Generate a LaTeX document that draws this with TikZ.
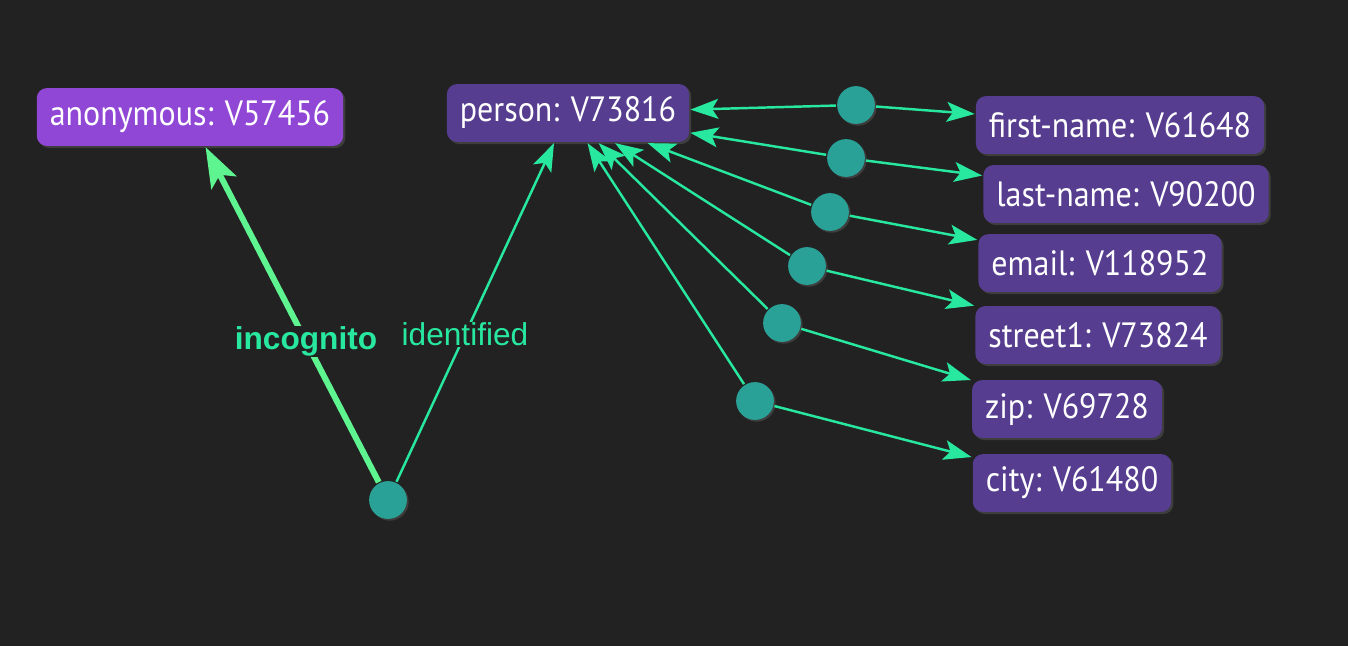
\documentclass[tikz,border=0pt]{standalone}
\usepackage{fontspec}
\newfontfamily\boxfont[FakeStretch=0.91]{PT Sans}
\newfontfamily\lblfont{Liberation Sans}
\usetikzlibrary{arrows.meta, shadows}
\definecolor{bgcol}{HTML}{222222}
\definecolor{anoncol}{HTML}{9147D6}
\definecolor{boxcol}{HTML}{563D8F}
\definecolor{hubcol}{HTML}{2AA197}
\definecolor{edgecol}{HTML}{28E8A0}
\definecolor{boldcol}{HTML}{5EF590}

\begin{document}
\begin{tikzpicture}[x=0.02cm,y=-0.02cm,->,>={Stealth[length=15.9pt,width=11.3pt,inset=3.5pt]},line width=1.4pt,draw=edgecol]
  \tikzstyle{box}=[rectangle,rounded corners=5.7pt,fill=boxcol,text=white,font=\boxfont\fontsize{20}{22}\selectfont,minimum height=32.9pt,inner xsep=7.4pt,drop shadow={shadow xshift=1.2pt,shadow yshift=-1.2pt,opacity=0.3}]
  \tikzstyle{hub}=[circle,fill=hubcol,minimum size=21.5pt,inner sep=0pt,drop shadow={shadow xshift=1pt,shadow yshift=-1pt,opacity=0.3}]
  \tikzstyle{lbl}=[fill=bgcol,text=edgecol,inner sep=0.5pt,font=\lblfont\fontsize{18}{20}\selectfont]

  \fill[bgcol] (0,0) rectangle (1348,646);
  \useasboundingbox (0,0) rectangle (1348,646);

  \node[box,fill=anoncol] (AN) at (190,117)  {anonymous: V57456};
  \node[box]              (PE) at (568,113)  {person: V73816};
  \node[box]              (FN) at (1120,125) {first-name: V61648};
  \node[box]              (LN) at (1126,194) {last-name: V90200};
  \node[box]              (EM) at (1100,263) {email: V118952};
  \node[box]              (ST) at (1098,335) {street1: V73824};
  \node[box]              (ZP) at (1067,409) {zip: V69728};
  \node[box]              (CT) at (1072,483) {city: V61480};

  \node[hub] (H0) at (388,500) {};
  \node[hub] (H1) at (856,105) {};
  \node[hub] (H2) at (846,158) {};
  \node[hub] (H3) at (830,212) {};
  \node[hub] (H4) at (807,266) {};
  \node[hub] (H5) at (782,323) {};
  \node[hub] (H6) at (755,401) {};

  \path (H0) edge [draw=boldcol,line width=3.4pt,>={Stealth[length=22.7pt,width=15.9pt,inset=5pt]}]
                  node[lbl,pos=0.42,font=\lblfont\bfseries\fontsize{18}{20}\selectfont] {incognito} (AN)
             edge node[lbl,pos=0.435] {identified} (PE)
        (H1) edge (PE)
             edge (FN)
        (H2) edge (PE)
             edge (LN)
        (H3) edge (PE)
             edge (EM)
        (H4) edge (PE)
             edge (ST)
        (H5) edge (PE)
             edge (ZP)
        (H6) edge (PE)
             edge (CT);
\end{tikzpicture}
\end{document}
